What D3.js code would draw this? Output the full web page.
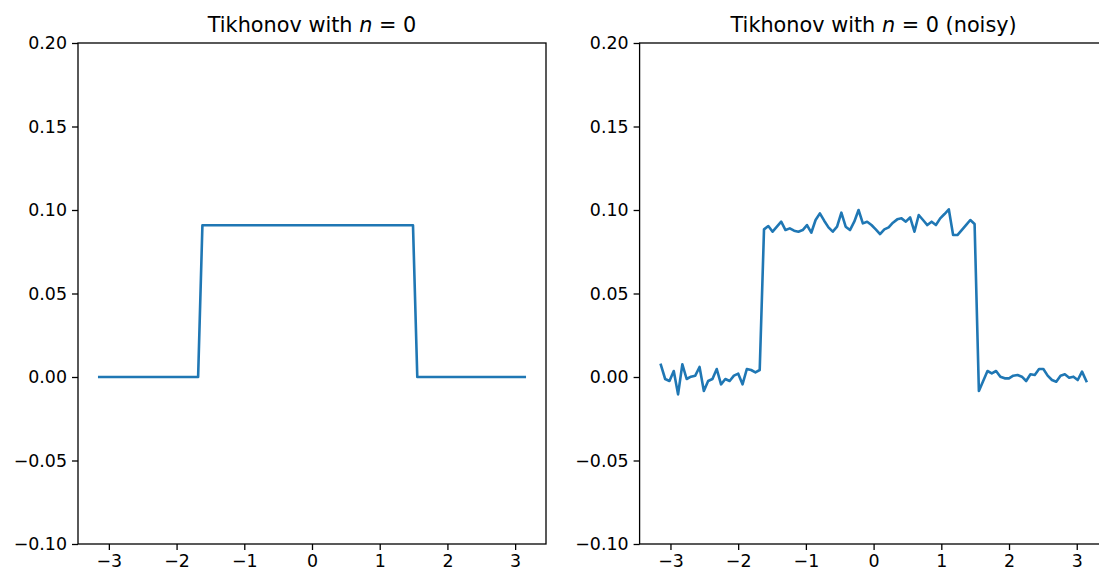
<!DOCTYPE html>
<html>
<head>
<meta charset="utf-8">
<script src="https://cdn.jsdelivr.net/npm/d3@7"></script>
<style>
  html, body { margin: 0; padding: 0; background: #fff; }
  svg { display: block; }
  text { font-family: "DejaVu Sans", sans-serif; fill: #000; }
</style>
</head>
<body>
<svg id="chart" width="1099" height="578"></svg>
<script>
// ---- data ----
const N = 100;                        // samples on [-pi, pi]
const xMin = -Math.PI, xMax = Math.PI;
const titles = ["Tikhonov with ", "Tikhonov with "];
const titleSuffix = ["", " (noisy)"];
const xTicks = [-3, -2, -1, 0, 1, 2, 3];
const yTicks = [-0.10, -0.05, 0.00, 0.05, 0.10, 0.15, 0.20];
const yTickLabels = ["\u22120.10", "\u22120.05", "0.00", "0.05", "0.10", "0.15", "0.20"];

const cleanValues = [
  0,0,0,0,0,0,0,0,0,0, 0,0,0,0,0,0,0,0,0,0, 0,0,0,0,
  0.0909,0.0909,0.0909,0.0909,0.0909,0.0909,0.0909,0.0909,0.0909,0.0909,
  0.0909,0.0909,0.0909,0.0909,0.0909,0.0909,0.0909,0.0909,0.0909,0.0909,
  0.0909,0.0909,0.0909,0.0909,0.0909,0.0909,0.0909,0.0909,0.0909,0.0909,
  0.0909,0.0909,0.0909,0.0909,0.0909,0.0909,0.0909,0.0909,0.0909,0.0909,
  0.0909,0.0909,0.0909,0.0909,0.0909,0.0909,0.0909,0.0909,0.0909,0.0909,
  0,0,0,0,0,0,0,0,0,0, 0,0,0,0,0,0,0,0,0,0, 0,0,0,0,0,0
];

const noisyValues = [
  0.0072,-0.0012,-0.0024,0.0036,-0.0104,0.0076,-0.0012,0.0002,0.0008,0.0060,
  -0.0084,-0.0024,-0.0012,0.0048,-0.0044,-0.0012,-0.0024,0.0008,0.0020,-0.0044,
  0.0048,0.0042,0.0028,0.0042,
  0.0884,0.0904,0.0870,0.0900,0.0930,0.0880,0.0890,0.0876,0.0870,0.0880,
  0.0910,0.0864,0.0940,0.0980,0.0936,0.0896,0.0870,0.0900,0.0984,0.0900,
  0.0880,0.0930,0.1000,0.0920,0.0930,0.0910,0.0884,0.0856,0.0884,0.0896,
  0.0924,0.0944,0.0950,0.0930,0.0956,0.0870,0.0970,0.0940,0.0910,0.0930,
  0.0910,0.0950,0.0976,0.1004,0.0850,0.0850,0.0880,0.0910,0.0940,0.0916,
  -0.0084,-0.0024,0.0036,0.0022,0.0036,0.0002,-0.0008,-0.0008,0.0008,0.0012,
  0.0002,-0.0024,0.0016,0.0012,0.0048,0.0048,0.0008,-0.0018,-0.0028,0.0008,
  0.0016,-0.0004,0.0002,-0.0018,0.0032,-0.0024
];

const xs = d3.range(N).map(i => xMin + (xMax - xMin) * i / (N - 1));
const series = [cleanValues, noisyValues];

// ---- layout ----
const svg = d3.select("#chart");
const panels = [{left: 78, right: 546}, {left: 639.6, right: 1107.6}];
const plotTop = 43, plotBottom = 544;
const color = "#1f77b4";
const fs = 17.4, titleFs = 20.8, tickLen = 6;
const margin = 0.05 * (xMax - xMin);

panels.forEach((p, i) => {
  const x = d3.scaleLinear().domain([xMin - margin, xMax + margin]).range([p.left, p.right]);
  const y = d3.scaleLinear().domain([-0.10, 0.20]).range([plotBottom, plotTop]);
  const g = svg.append("g");

  const line = d3.line().x((d, j) => x(xs[j])).y(d => y(d));
  g.append("path")
    .datum(series[i])
    .attr("d", line)
    .attr("fill", "none")
    .attr("stroke", color)
    .attr("stroke-width", 2.6)
    .attr("stroke-linejoin", "round")
    .attr("stroke-linecap", "square");

  // x axis
  const xAxis = d3.axisBottom(x).tickValues(xTicks)
    .tickFormat(d => d < 0 ? "\u2212" + Math.abs(d) : String(d))
    .tickSize(tickLen).tickPadding(5);
  const gx = g.append("g").attr("transform", `translate(0,${plotBottom})`).call(xAxis);
  // y axis
  const yAxis = d3.axisLeft(y).tickValues(yTicks)
    .tickFormat((d, j) => yTickLabels[j])
    .tickSize(tickLen).tickPadding(5);
  const gy = g.append("g").attr("transform", `translate(${p.left},0)`).call(yAxis);

  [gx, gy].forEach(a => {
    a.select(".domain").remove();
    a.selectAll(".tick line").attr("stroke", "#000").attr("stroke-width", 1.3);
    a.selectAll(".tick text").attr("font-size", fs).attr("font-family", "DejaVu Sans").attr("fill", "#000");
  });

  // frame
  g.append("rect")
    .attr("x", p.left).attr("y", plotTop)
    .attr("width", p.right - p.left).attr("height", plotBottom - plotTop)
    .attr("fill", "none").attr("stroke", "#000").attr("stroke-width", 1.3);

  // title
  const t = g.append("text")
    .attr("x", (p.left + p.right) / 2)
    .attr("y", plotTop - 11)
    .attr("text-anchor", "middle")
    .attr("font-size", titleFs);
  t.append("tspan").text(titles[i]);
  t.append("tspan").attr("font-style", "italic").text("n");
  t.append("tspan").text(" = 0" + titleSuffix[i]);
});
</script>
</body>
</html>
